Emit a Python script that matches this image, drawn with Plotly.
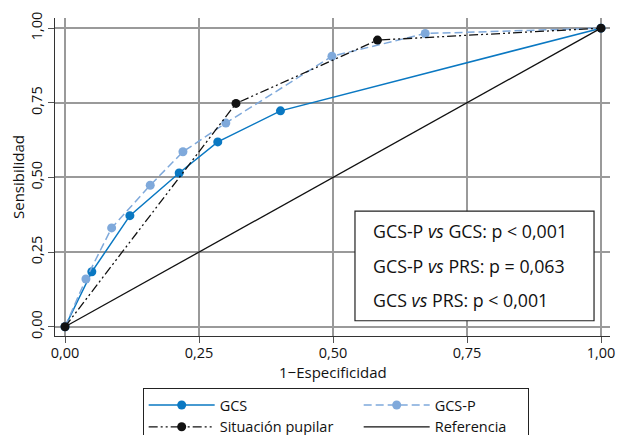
import plotly.graph_objects as go

# Data
gcs_x = [0.0, 0.050, 0.121, 0.213, 0.285, 0.402, 1.0]
gcs_y = [0.0, 0.184, 0.372, 0.515, 0.619, 0.723, 1.0]

gcsp_x = [0.0, 0.039, 0.087, 0.159, 0.220, 0.300, 0.498, 0.672, 1.0]
gcsp_y = [0.0, 0.160, 0.331, 0.474, 0.586, 0.682, 0.906, 0.982, 1.0]

pup_x = [0.0, 0.319, 0.583, 1.0]
pup_y = [0.0, 0.748, 0.960, 1.0]

ref_x = [0.0, 1.0]
ref_y = [0.0, 1.0]

tick_vals = [0.0, 0.25, 0.5, 0.75, 1.0]
x_title = "1−Especificidad"
y_title = "Sensibilidad"
stats_lines = [
    "GCS-P <i>vs</i> GCS: p < 0,001",
    "GCS-P <i>vs</i> PRS: p = 0,063",
    "GCS <i>vs</i> PRS: p < 0,001",
]

FONT = "Open Sans"
C_GCS = "#0A78C2"
C_GCSP = "#7FA9DB"
C_BLK = "#111111"

fig = go.Figure()
fig.add_trace(go.Scatter(x=gcs_x, y=gcs_y, name="GCS", mode="lines+markers",
                         line=dict(color=C_GCS, width=1.5),
                         marker=dict(color=C_GCS, size=9), legendwidth=134))
fig.add_trace(go.Scatter(x=gcsp_x, y=gcsp_y, name="GCS-P", mode="lines+markers",
                         line=dict(color=C_GCSP, width=1.5, dash="8px,4px"),
                         marker=dict(color=C_GCSP, size=9), legendwidth=88))
fig.add_trace(go.Scatter(x=pup_x, y=pup_y, name="Situación pupilar", mode="lines+markers",
                         line=dict(color=C_BLK, width=1.3, dash="9px,3px,2px,3px,2px,3px"),
                         marker=dict(color=C_BLK, size=9), legendwidth=134))
fig.add_trace(go.Scatter(x=ref_x, y=ref_y, name="Referencia", mode="lines",
                         line=dict(color=C_BLK, width=1.3), legendwidth=88))

# stats box
fig.add_shape(type="rect", xref="x", yref="y", x0=0.541, x1=0.987, y0=0.020, y1=0.387,
              line=dict(color="#222222", width=1.2), fillcolor="white", layer="above")
for i, t in enumerate(stats_lines):
    fig.add_annotation(xref="x", yref="y", x=0.571, y=0.319 - i * 0.114, text=t,
                       showarrow=False, xanchor="left", yanchor="middle",
                       font=dict(family=FONT, size=17.8, color="#111111"))

# axis titles
fig.add_annotation(xref="paper", yref="paper", x=0.5, y=0, yshift=-36, text=x_title,
                   showarrow=False, xanchor="center", yanchor="middle",
                   font=dict(family=FONT, size=15, color="#111111"))
fig.add_annotation(xref="paper", yref="paper", x=0, y=0.5, xshift=-37, text=y_title,
                   textangle=-90, showarrow=False, xanchor="center", yanchor="middle",
                   font=dict(family=FONT, size=15, color="#111111"))

axis_common = dict(
    tickvals=tick_vals, tickformat=".2f", showgrid=True, gridcolor="#9A9A9A", gridwidth=1.5,
    showline=True, linecolor="#333333", linewidth=1.3, ticks="outside", ticklen=6,
    tickcolor="#555555", tickwidth=1.3, zeroline=False, automargin=False,
    tickfont=dict(family=FONT, size=14.5, color="#111111"),
)
fig.update_xaxes(range=[-0.0187, 1.0168], ticklabelstandoff=-3, **axis_common)
fig.update_yaxes(range=[-0.031, 1.034], tickangle=-90, **axis_common)

fig.update_layout(
    width=619, height=435, separators=",.",
    margin=dict(l=55, r=9, t=18, b=99),
    plot_bgcolor="white", paper_bgcolor="white",
    font=dict(family=FONT, size=14, color="#111111"),
    legend=dict(orientation="h", xref="container", yref="container",
                x=0.2305, y=0.108, xanchor="left", yanchor="top",
                bordercolor="#222222", borderwidth=1,
                font=dict(family=FONT, size=14.5), tracegroupgap=0, itemwidth=66),
    showlegend=True,
)

fig.write_html("out.html", config={"displayModeBar": False},
               post_script="document.body.style.margin='0';document.body.style.overflow='hidden';")
